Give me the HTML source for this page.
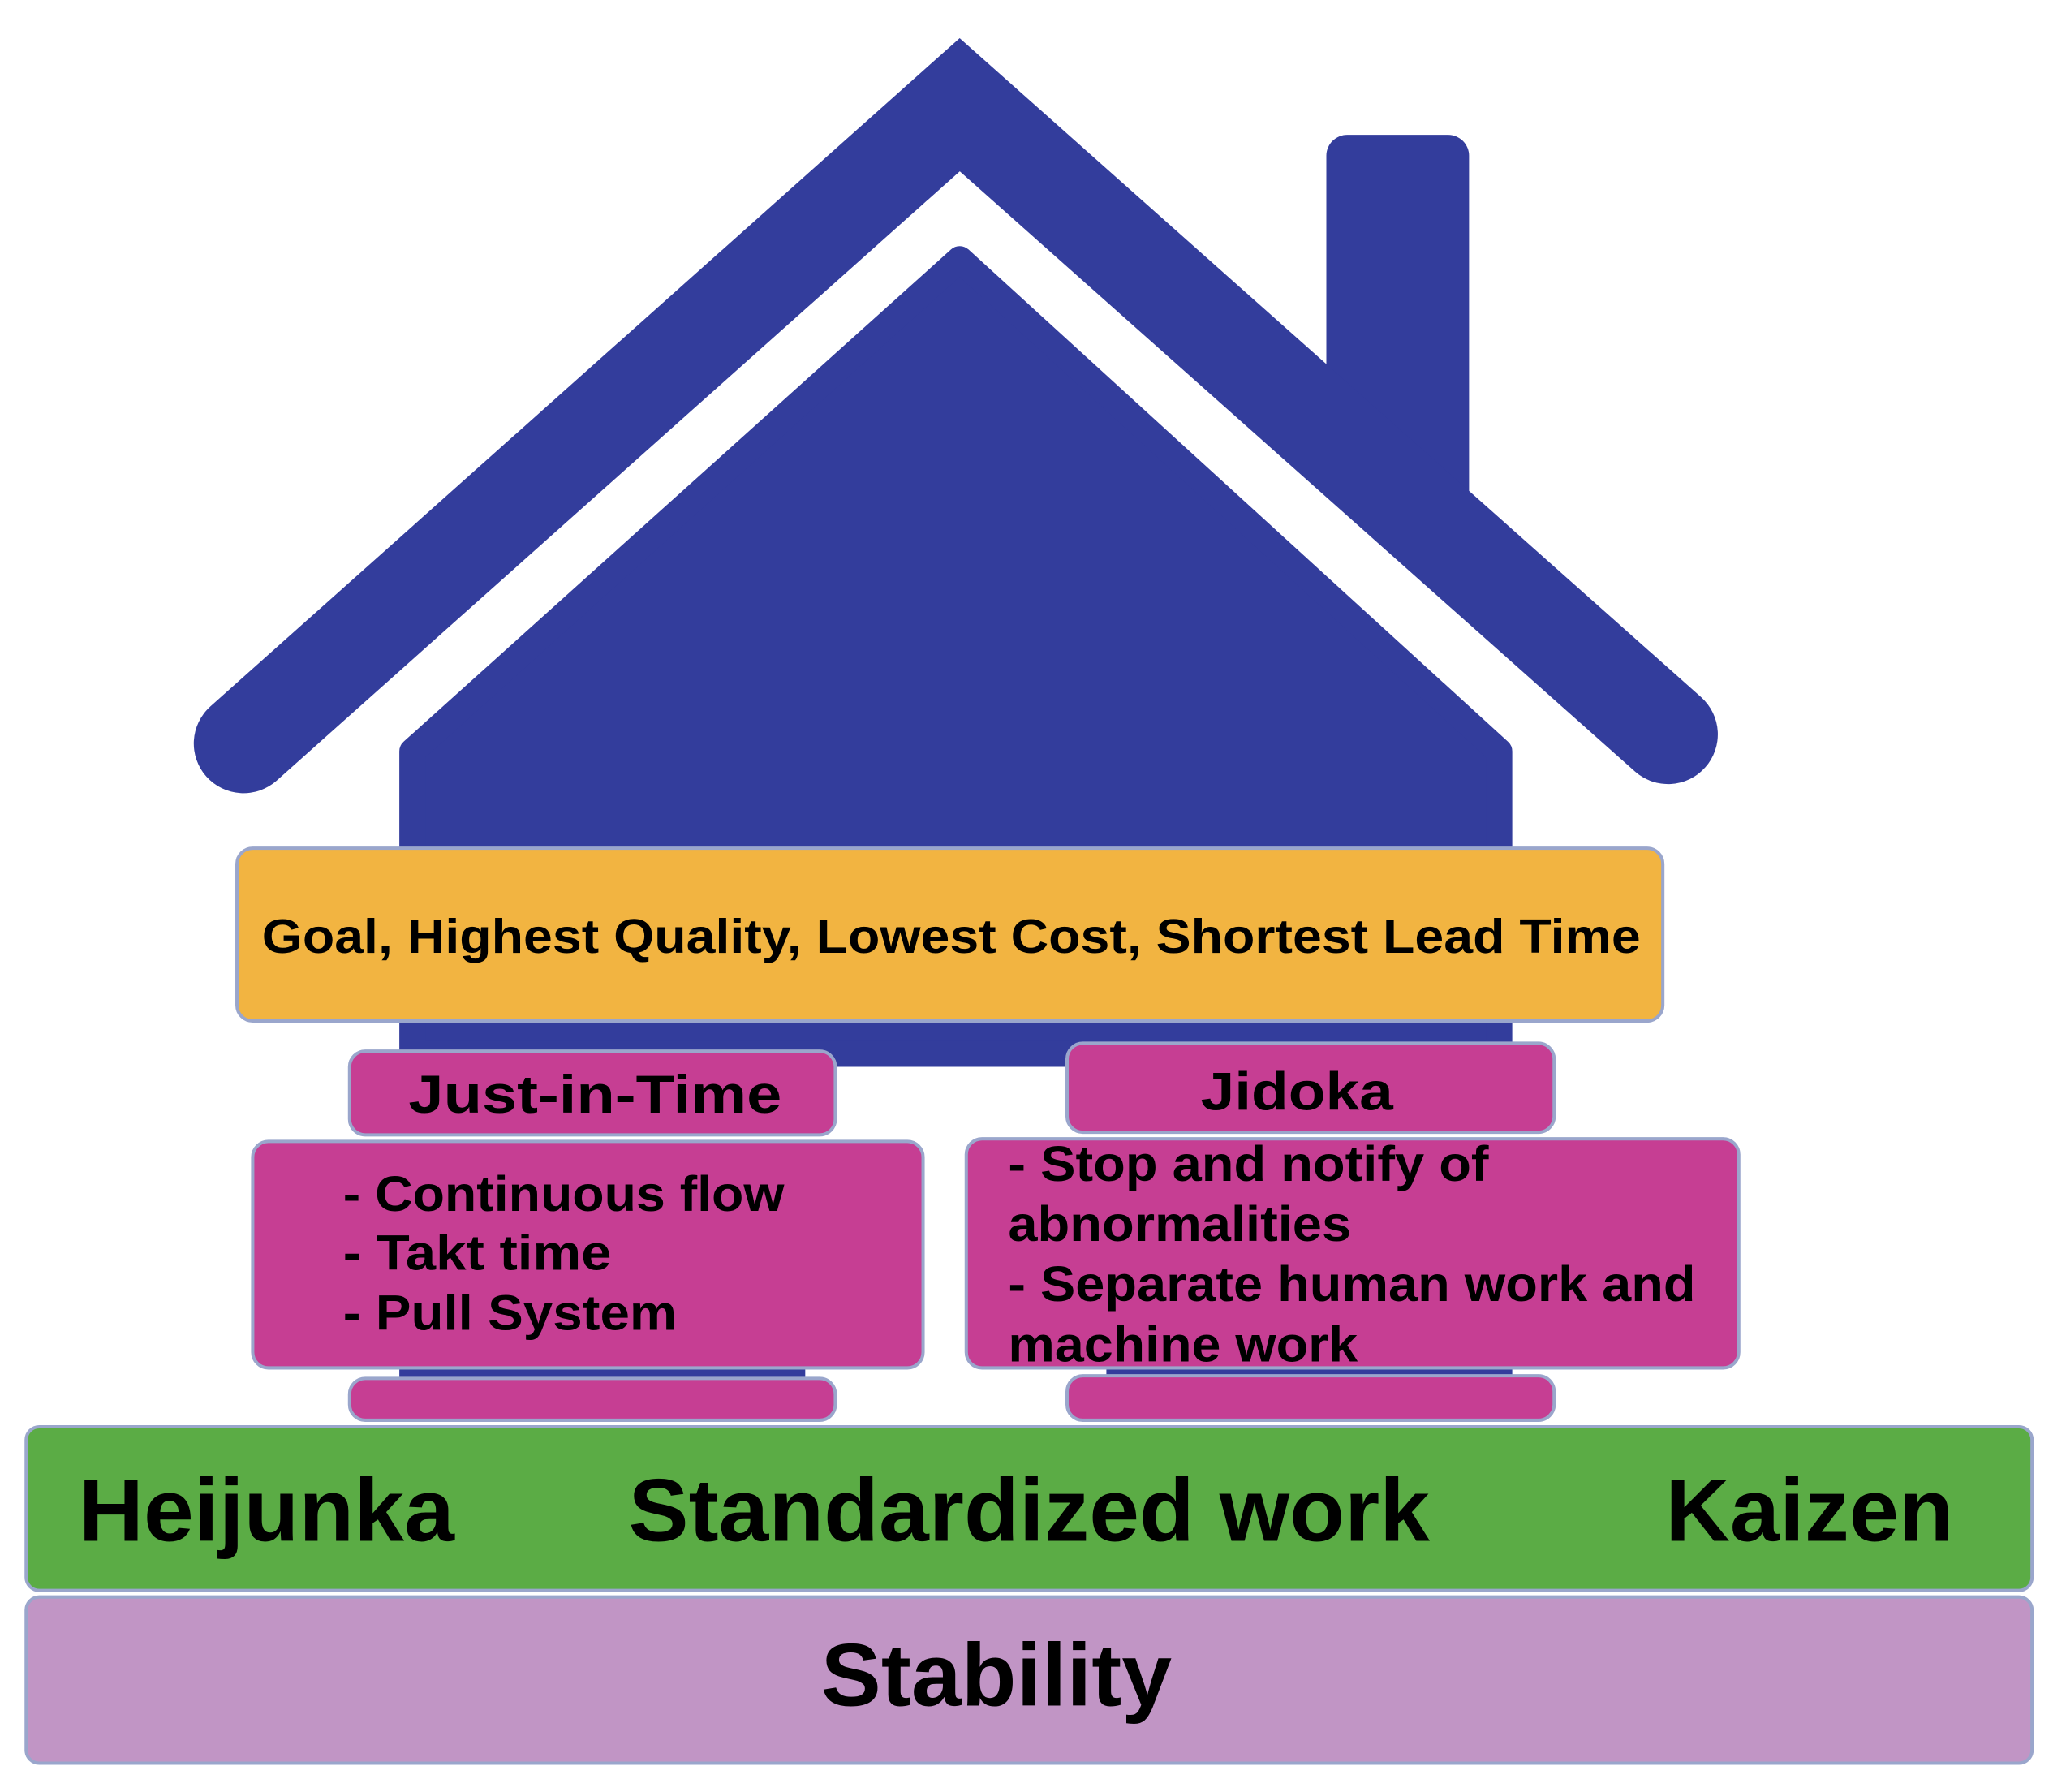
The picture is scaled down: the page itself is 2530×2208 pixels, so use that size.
<!DOCTYPE html>
<html><head><meta charset="utf-8"><style>
html,body{margin:0;padding:0;background:#fff;}
svg{display:block;}
text{font-family:"Liberation Sans",sans-serif;font-weight:bold;fill:#000;}
</style></head><body>
<svg width="2530" height="2208" viewBox="0 0 1568 1369" preserveAspectRatio="none" xmlns="http://www.w3.org/2000/svg">
<rect width="1568" height="1369" fill="#fff"/>
<rect x="1013" y="103" width="109" height="300" rx="16" fill="#333D9C"/>
<polyline points="150,660 733,160 1320,660" fill="none" stroke="#fff" stroke-width="38" stroke-linejoin="miter"/>
<polyline points="186,568 733,80 1274,561" fill="none" stroke="#333D9C" stroke-width="76" stroke-linecap="round" stroke-linejoin="miter" stroke-miterlimit="4"/>
<polygon points="733,198 1145,574 1145,805 315,805 315,574" fill="#333D9C" stroke="#333D9C" stroke-width="20" stroke-linejoin="round"/>
<rect x="305" y="1040" width="310" height="16" fill="#333D9C"/>
<rect x="845" y="1040" width="310" height="16" fill="#333D9C"/>
<rect x="181" y="648" width="1089" height="132" rx="12" fill="#F2B441" stroke="#9aa6cc" stroke-width="2.5"/>
<text x="200" y="728" font-size="37" textLength="1053" lengthAdjust="spacingAndGlyphs">Goal, Highest Quality, Lowest Cost, Shortest Lead Time</text>
<rect x="267" y="803" width="371" height="64" rx="12" fill="#C63E93" stroke="#9aa6cc" stroke-width="2.5"/>
<text x="312" y="850" font-size="41" textLength="285" lengthAdjust="spacingAndGlyphs">Just-in-Time</text>
<rect x="193" y="872" width="512" height="173" rx="12" fill="#C63E93" stroke="#9aa6cc" stroke-width="2.5"/>
<text x="262" y="925" font-size="38" textLength="337" lengthAdjust="spacingAndGlyphs">- Continuous flow</text>
<text x="262" y="970" font-size="38" textLength="205" lengthAdjust="spacingAndGlyphs">- Takt time</text>
<text x="262" y="1016" font-size="38" textLength="255" lengthAdjust="spacingAndGlyphs">- Pull System</text>
<rect x="267" y="1053" width="371" height="32" rx="12" fill="#C63E93" stroke="#9aa6cc" stroke-width="2.5"/>
<rect x="815" y="797" width="372" height="68" rx="12" fill="#C63E93" stroke="#9aa6cc" stroke-width="2.5"/>
<text x="917" y="848" font-size="41" textLength="147" lengthAdjust="spacingAndGlyphs">Jidoka</text>
<rect x="738" y="870" width="590" height="175" rx="12" fill="#C63E93" stroke="#9aa6cc" stroke-width="2.5"/>
<text x="770" y="902" font-size="38" textLength="367" lengthAdjust="spacingAndGlyphs">- Stop and notify of</text>
<text x="770" y="948" font-size="38" textLength="262" lengthAdjust="spacingAndGlyphs">abnormalities</text>
<text x="770" y="994" font-size="38" textLength="525" lengthAdjust="spacingAndGlyphs">- Separate human work and</text>
<text x="770" y="1040" font-size="38" textLength="267" lengthAdjust="spacingAndGlyphs">machine work</text>
<rect x="815" y="1051" width="372" height="34" rx="12" fill="#C63E93" stroke="#9aa6cc" stroke-width="2.5"/>
<rect x="20" y="1090" width="1532" height="125" rx="10" fill="#5BAC45" stroke="#9aa6cc" stroke-width="2.5"/>
<text x="60" y="1177" font-size="68" textLength="287" lengthAdjust="spacingAndGlyphs">Heijunka</text>
<text x="480" y="1177" font-size="68" textLength="612" lengthAdjust="spacingAndGlyphs">Standardized work</text>
<text x="1272" y="1177" font-size="68" textLength="220" lengthAdjust="spacingAndGlyphs">Kaizen</text>
<rect x="20" y="1220" width="1532" height="127" rx="10" fill="#C195C5" stroke="#9aa6cc" stroke-width="2.5"/>
<text x="627" y="1303" font-size="68" textLength="268" lengthAdjust="spacingAndGlyphs">Stability</text>
</svg>
</body></html>
